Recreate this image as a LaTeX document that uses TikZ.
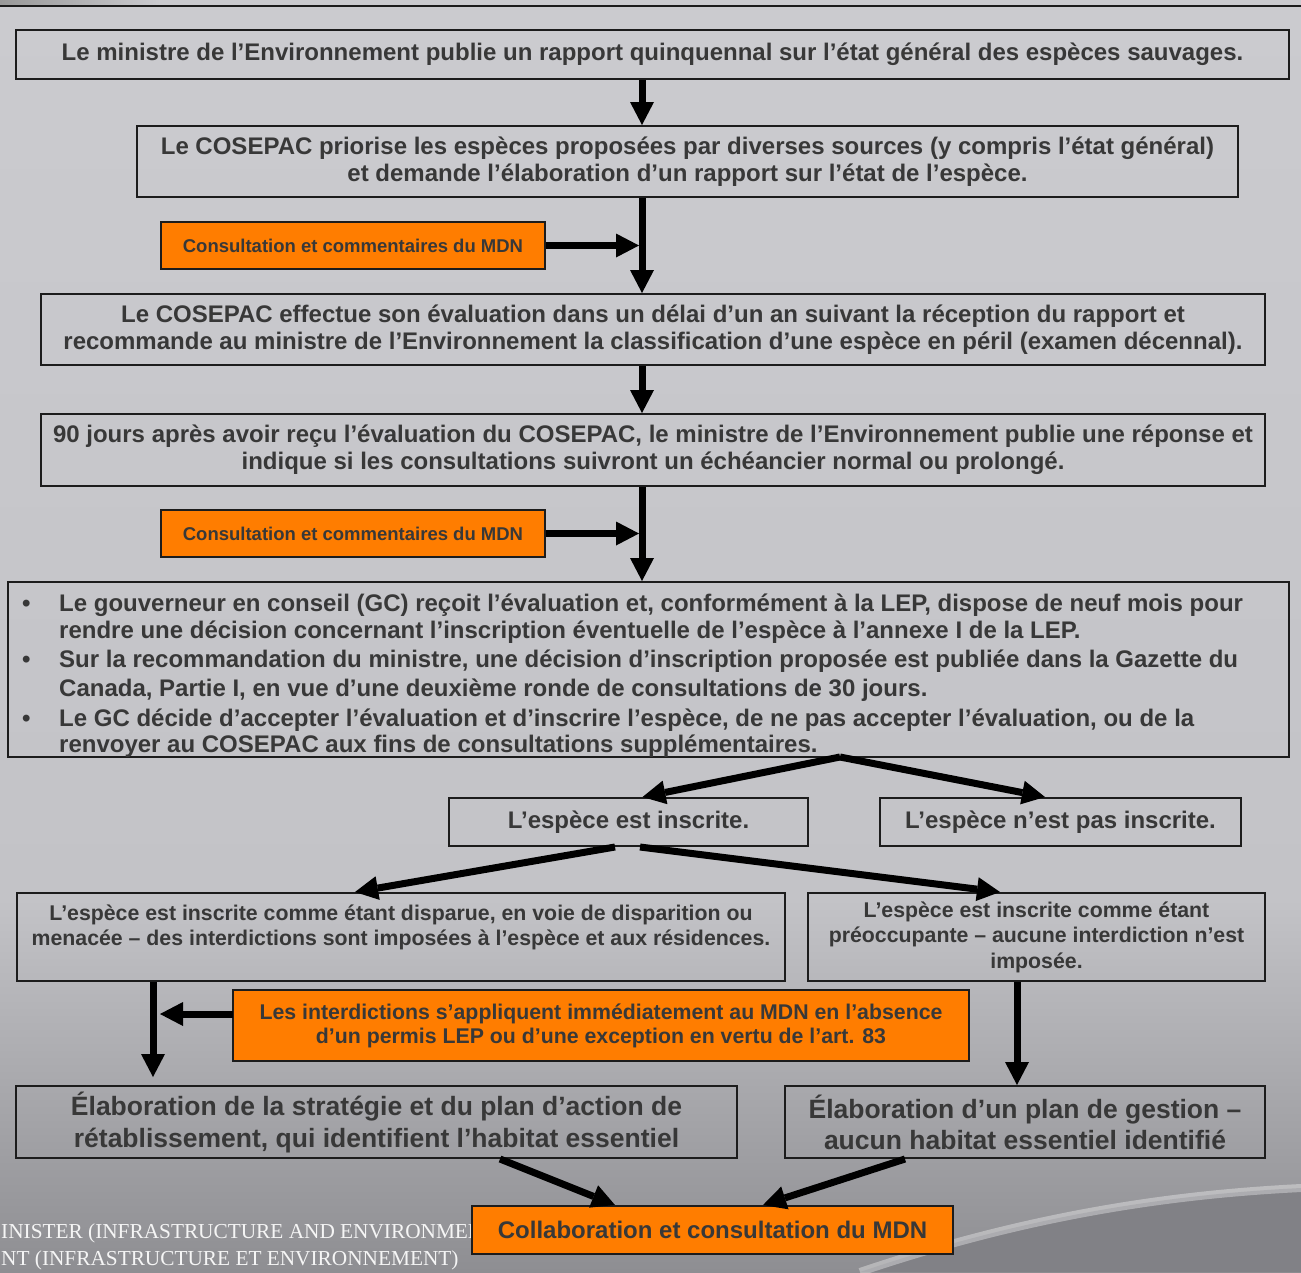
\documentclass[tikz,border=0pt]{standalone}
\usepackage{fontspec}
\setmainfont{Liberation Sans}
\newfontfamily\footfont{Liberation Serif}
\usetikzlibrary{arrows.meta}
\definecolor{bgtop}{HTML}{CBCBCF}
\definecolor{bgmid}{HTML}{C3C3C7}
\definecolor{bgbot}{HTML}{8E8E92}
\definecolor{bordc}{HTML}{1C1C1C}
\definecolor{txtc}{HTML}{383838}
\definecolor{orangec}{HTML}{FF7D00}
\definecolor{darkswoosh}{HTML}{818186}
\tikzset{
  box/.style={draw=bordc, line width=2pt, inner sep=0pt, text=txtc, align=center,
    font=\bfseries\fontsize{24}{27}\selectfont},
  obox/.style={box, fill=orangec},
  txt/.style={inner sep=0pt, text=txtc, align=center},
  ln/.style={anchor=west, inner sep=0pt, text=txtc, text height=17pt, text depth=5pt,
    font=\bfseries\fontsize{24}{27}\selectfont},
  arr/.style={draw=black, line width=7pt, -{Triangle[width=24pt,length=23pt,line width=0pt]}},
  foot/.style={anchor=west, inner sep=0pt, text=white!92!gray, font=\footfont\fontsize{21.3}{25}\selectfont},
}
\begin{document}
\begin{tikzpicture}[x=1pt,y=-1pt]
\useasboundingbox (0,0) rectangle (1301,1272);
% background
\shade[top color=bgtop, bottom color=bgmid] (0,0) rectangle (1301,900);
\shade[top color=bgmid, bottom color=bgbot] (0,899) rectangle (1301,1272);
\shade[left color=gray!80, right color=bgtop] (0,0) rectangle (160,5);
\fill[darkswoosh] (860,1272) .. controls (1020,1218) and (1160,1195) .. (1301,1188) -- (1301,1272) -- cycle;
\draw[white, opacity=0.35, line width=8pt] (860,1272) .. controls (1020,1218) and (1160,1195) .. (1301,1188);
\draw[bordc, line width=2pt] (0,6) -- (1301,6);

% footer text (partly hidden behind the last orange box)
\node[foot] (f1) at (1,1233) {INISTER (INFRASTRUCTURE AND ENVIRONMENT)};
\node[foot] (f2) at (1,1260) {NT (INFRASTRUCTURE ET ENVIRONNEMENT)};

\coordinate (spine) at (642,0);

% boxes
\node[box, minimum width=1273pt, minimum height=49pt] (b1) at (652.5,54.5)
  {Le ministre de l’Environnement publie un rapport quinquennal sur l’état général des espèces sauvages.};
\node[box, minimum width=1101pt, minimum height=71pt] (b2) at (687.5,161.5)
  {Le COSEPAC priorise les espèces proposées par diverses sources (y compris l’état général)\\
   et demande l’élaboration d’un rapport sur l’état de l’espèce.};
\node[obox, minimum width=384pt, minimum height=47pt, font=\bfseries\fontsize{18.5}{22}\selectfont] (o1) at (353,245.5)
  {Consultation et commentaires du MDN};
\node[box, minimum width=1224pt, minimum height=71pt] (b3) at (653,329.5)
  {Le COSEPAC effectue son évaluation dans un délai d’un an suivant la réception du rapport et\\
   recommande au ministre de l’Environnement la classification d’une espèce en péril (examen décennal).};
\node[box, minimum width=1224pt, minimum height=72pt] (b4) at (653,450)
  {90 jours après avoir reçu l’évaluation du COSEPAC, le ministre de l’Environnement publie une réponse et\\
   indique si les consultations suivront un échéancier normal ou prolongé.};
\node[obox, minimum width=384pt, minimum height=47pt, font=\bfseries\fontsize{18.5}{22}\selectfont] (o2) at (353,533.5)
  {Consultation et commentaires du MDN};
\node[box, minimum width=1281pt, minimum height=175pt] (b5) at (648.5,669.5) {};
\node[ln] (bu1) at (22,605) {•};
\node[ln] (l1) at (59,605) {Le gouverneur en conseil (GC) reçoit l’évaluation et, conformément à la LEP, dispose de neuf mois pour};
\node[ln] (l2) at (59,632) {rendre une décision concernant l’inscription éventuelle de l’espèce à l’annexe I de la LEP.};
\node[ln] (bu2) at (22,661) {•};
\node[ln] (l3) at (59,661) {Sur la recommandation du ministre, une décision d’inscription proposée est publiée dans la Gazette du};
\node[ln] (l4) at (59,690) {Canada, Partie I, en vue d’une deuxième ronde de consultations de 30 jours.};
\node[ln] (bu3) at (22,720) {•};
\node[ln] (l5) at (59,720) {Le GC décide d’accepter l’évaluation et d’inscrire l’espèce, de ne pas accepter l’évaluation, ou de la};
\node[ln] (l6) at (59,746) {renvoyer au COSEPAC aux fins de consultations supplémentaires.};

\node[box, minimum width=359pt, minimum height=48pt] (b6) at (628.5,822) {L’espèce est inscrite.};
\node[box, minimum width=361pt, minimum height=48pt] (b7) at (1060.5,822) {L’espèce n’est pas inscrite.};

\node[box, minimum width=768pt, minimum height=88pt] (b8) at (401,937) {};
\node[txt, font=\bfseries\fontsize{21.3}{25}\selectfont] (t8) at (401,927)
  {L’espèce est inscrite comme étant disparue, en voie de disparition ou\\
   menacée – des interdictions sont imposées à l’espèce et aux résidences.};
\node[box, minimum width=457pt, minimum height=88pt, font=\bfseries\fontsize{21.3}{25.5}\selectfont] (b9) at (1036.5,937)
  {L’espèce est inscrite comme étant\\ préoccupante – aucune interdiction n’est\\ imposée.};

\node[obox, minimum width=736pt, minimum height=71pt, font=\bfseries\fontsize{21.3}{24}\selectfont] (o3) at (601,1025.5)
  {Les interdictions s’appliquent immédiatement au MDN en l’absence\\
   d’un permis LEP ou d’une exception en vertu de l’art. 83};

\node[box, minimum width=721pt, minimum height=72pt, font=\bfseries\fontsize{26.5}{32}\selectfont] (b10) at (376.5,1122)
  {Élaboration de la stratégie et du plan d’action de\\ rétablissement, qui identifient l’habitat essentiel};
\node[box, minimum width=480pt, minimum height=72pt, font=\bfseries\fontsize{26.5}{31}\selectfont] (b11) at (1025,1122)
  {Élaboration d’un plan de gestion –\\ aucun habitat essentiel identifié};

\node[obox, minimum width=481pt, minimum height=48pt] (o4) at (712.5,1230)
  {Collaboration et consultation du MDN};

% connectors
\draw[arr] (b1.south -| spine) -- (b2.north -| spine);
\draw[arr] (b2.south -| spine) -- (b3.north -| spine);
\draw[arr, shorten >=3pt] (o1.east) -- (o1.east -| spine);
\draw[arr] (b3.south -| spine) -- (b4.north -| spine);
\draw[arr] (b4.south -| spine) -- (b5.north -| spine);
\draw[arr, shorten >=3pt] (o2.east) -- (o2.east -| spine);

\coordinate (fork) at (840,757);
\draw[arr] (fork) -- ([xshift=14pt]b6.north);
\draw[arr] (fork) -- ([xshift=-15.5pt]b7.north);

\draw[arr] ([xshift=-13.5pt]b6.south) -- ([xshift=-46pt]b8.north);
\draw[arr] ([xshift=11.5pt]b6.south) -- ([xshift=-36.5pt]b9.north);

\coordinate (leftx) at (153,0);
\coordinate (rightx) at (1017,0);
\draw[arr, shorten >=8pt] (b8.south -| leftx) -- (b10.north -| leftx);
\coordinate (o3w) at (233,1014);
\coordinate (o3t) at (160,1014);
\draw[arr] (o3w) -- (o3t);
\draw[arr] (b9.south -| rightx) -- (b11.north -| rightx);

\draw[arr] ([xshift=123.5pt]b10.south) -- ([xshift=-97.5pt]o4.north);
\draw[arr] ([xshift=-120pt]b11.south) -- ([xshift=50.5pt]o4.north);
\end{tikzpicture}
\end{document}
